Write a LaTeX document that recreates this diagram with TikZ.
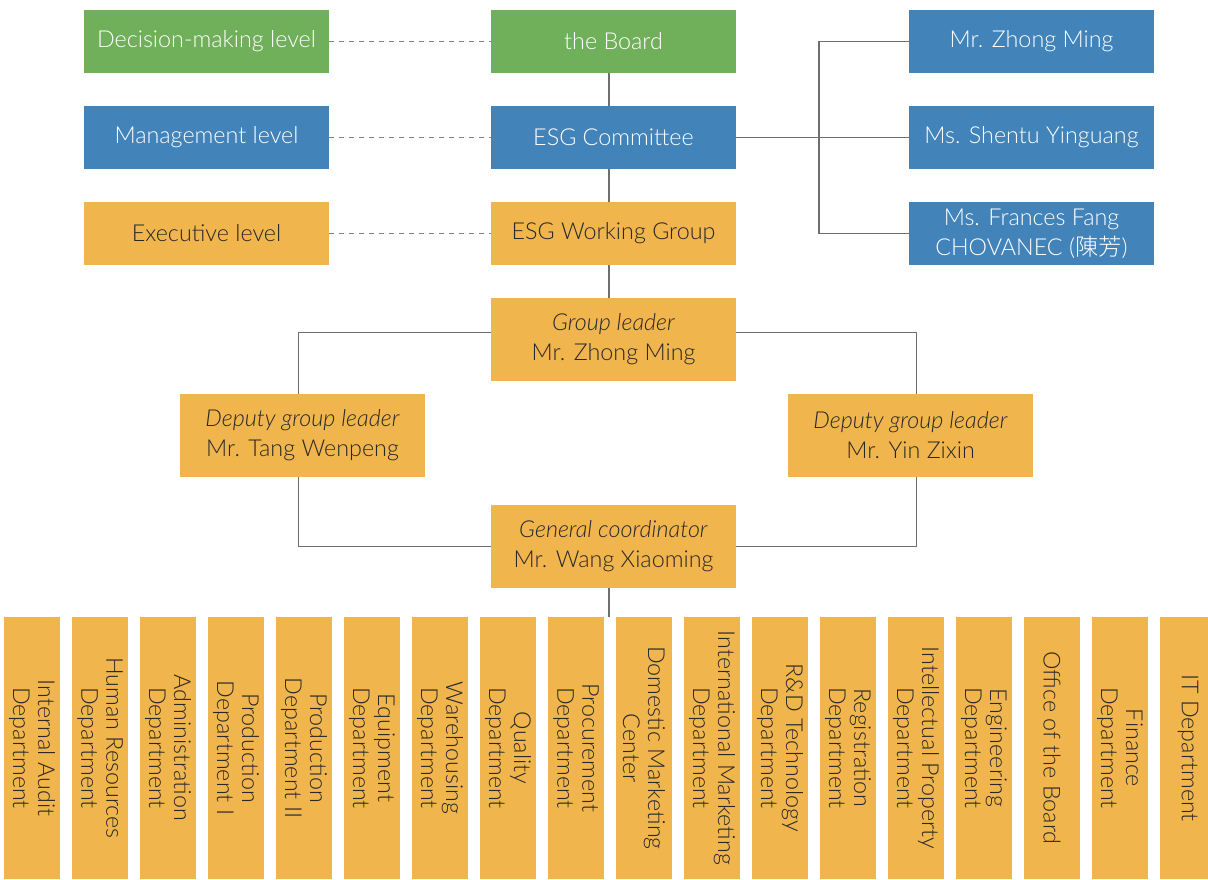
\documentclass[tikz,border=0pt]{standalone}
\usepackage{fontspec}
\setmainfont{Lato}[UprightFont={* Light}, ItalicFont={* Light Italic}]
\newfontfamily\cjk{Noto Sans CJK TC}[UprightFont={* Light}]
\definecolor{bGreen}{RGB}{112,176,90}
\definecolor{bBlue}{RGB}{66,131,186}
\definecolor{bOrange}{RGB}{240,181,76}
\definecolor{tGray}{RGB}{40,40,40}
\definecolor{lGray}{RGB}{110,110,110}
\definecolor{dGray}{RGB}{130,130,130}
\begin{document}
\begin{tikzpicture}[x=0.75pt,y=-0.75pt,
  box/.style={rectangle, inner sep=0pt, minimum width=183.75pt, minimum height=47.25pt, align=center, font=\fontsize{17.5}{22.5}\selectfont},
  tallbox/.style={box, minimum height=62.25pt},
  gbox/.style={fill=bGreen, text=white},
  bbox/.style={fill=bBlue, text=white},
  obox/.style={fill=bOrange, text=tGray},
  dept/.style={rectangle, fill=bOrange, text=tGray, inner sep=0pt, rotate=-90, minimum width=196.5pt, minimum height=42pt, align=center, font=\fontsize{17.5}{18.75}\selectfont},
  link/.style={draw=lGray, line width=1.1pt},
  dlink/.style={draw=dGray, line width=0.9pt, dash pattern=on 3.75pt off 3.75pt}
]
\useasboundingbox (0,0) rectangle (1208,880);
\clip (0,0) rectangle (1208,880);

% levels
\node[box,gbox] (DML) at (206.5,41.5) {Decision-making level};
\node[box,bbox] (ML) at (206.5,137.5) {Management level};
\node[box,obox] (EL) at (206.5,233.5) {Executive level};

% centre column
\node[box,gbox] (Board) at (613.5,41.5) {the Board};
\node[box,bbox] (ESG) at (613.5,137.5) {ESG Committee};
\node[box,obox] (WG) at (613.5,233.5) {ESG Working Group};
\node[tallbox,obox] (GL) at (613.5,339.5) {\textit{Group leader}\\Mr. Zhong Ming};
\node[tallbox,obox] (DL) at (302.5,435.5) {\textit{Deputy group leader}\\Mr. Tang Wenpeng};
\node[tallbox,obox] (DR) at (910.5,435.5) {\textit{Deputy group leader}\\Mr. Yin Zixin};
\node[tallbox,obox] (GC) at (613.5,546.5) {\textit{General coordinator}\\Mr. Wang Xiaoming};

% committee members
\node[box,bbox] (Zhong) at (1031.5,41.5) {Mr. Zhong Ming};
\node[box,bbox] (Shentu) at (1031.5,137.5) {Ms. Shentu Yinguang};
\node[box,bbox] (Frances) at (1031.5,233.5) {Ms. Frances Fang\\CHOVANEC ({\cjk 陳芳})};

% departments
\foreach \t [count=\i] in {
  {Internal Audit\\Department},
  {Human Resources\\Department},
  {Administration\\Department},
  {Production\\Department I},
  {Production\\Department II},
  {Equipment\\Department},
  {Warehousing\\Department},
  {Quality\\Department},
  {Procurement\\Department},
  {Domestic Marketing\\Center},
  {International Marketing\\Department},
  {R\&D Technology\\Department},
  {Registration\\Department},
  {Intellectual Property\\Department},
  {Engineering\\Department},
  {Office of the Board},
  {Finance\\Department},
  {IT Department}}
  \node[dept] (d\i) at ({32+68*(\i-1)},748) {\t};

% dashed level links
\draw[dlink] (DML.east) -- (Board.west);
\draw[dlink] (ML.east) -- (ESG.west);
\draw[dlink] (EL.east) -- (WG.west);

% spine
\draw[link] ([xshift=-3.375pt]Board.south) -- ([xshift=-3.375pt]ESG.north);
\draw[link] ([xshift=-3.375pt]ESG.south) -- ([xshift=-3.375pt]WG.north);
\draw[link] ([xshift=-3.375pt]WG.south) -- ([xshift=-3.375pt]GL.north);
\coordinate (dtop) at (609,617);
\draw[link] ([xshift=-3.375pt]GC.south) -- (dtop);

% committee bracket
\coordinate (br) at (819,137.5);
\draw[link] (ESG.east) -- (br);
\draw[link] (br) -- (Shentu.west);
\draw[link] (Zhong.west) -| (br) |- (Frances.west);

% deputies
\draw[link] ([yshift=5.25pt]GL.west) -| ([xshift=-2.85pt]DL.north);
\draw[link] ([yshift=5.25pt]GL.east) -| ([xshift=4.65pt]DR.north);
\draw[link] ([xshift=-2.85pt]DL.south) |- (GC.west);
\draw[link] ([xshift=4.65pt]DR.south) |- (GC.east);
\end{tikzpicture}
\end{document}
